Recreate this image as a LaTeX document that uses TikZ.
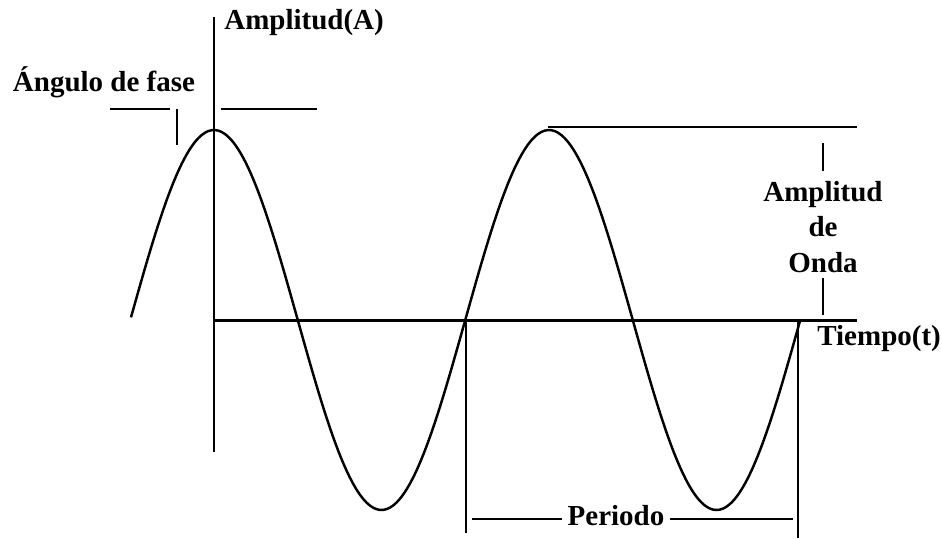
\documentclass[tikz,border=0pt]{standalone}
\usepackage{fontspec}
\setmainfont{Liberation Serif}
\usetikzlibrary{positioning}

\begin{document}
\begin{tikzpicture}[
      x=0.02cm, y=-0.02cm,
      axis/.style={line width=1.7pt},
      wave/.style={line width=1.4pt},
      guide/.style={line width=1.5pt},
      lbl/.style={font=\bfseries\fontsize{16.5}{19}\selectfont, inner sep=0pt}]

    % 1 unit = 1 px of the sketch, y grows downwards
    \def\per{335}       % period
    \def\amp{190}       % amplitude
    \def\xo{214}        % peak on the vertical axis
    \def\yo{320}        % time axis

    \useasboundingbox (0,0) rectangle (942,538);

    % Axes
    \coordinate (ytop) at (\xo,17);
    \coordinate (ybot) at (\xo,452);
    \coordinate (O) at (\xo,\yo);
    \coordinate (xend) at (857,\yo);
    \draw[axis] (ytop) -- (ybot);
    \draw[axis] (O) -- (xend);
    \node[lbl, anchor=west] (ampA) at (224,23) {Amplitud(A)};
    \node[lbl, anchor=west] (tiempo) at (817,339) {Tiempo(t)};

    % Wave
    \draw[wave] plot[domain=131:800, samples=200, smooth]
        (\x, {\yo-\amp*cos((\x-\xo)/\per*360)});

    % Phase angle
    \node[lbl] (fase) at (104,82) {Ángulo de fase};
    \coordinate (fl1) at (110,109);
    \coordinate (fl2) at (170,109);
    \coordinate (fr1) at (221,109);
    \coordinate (fr2) at (317,109);
    \coordinate (ft1) at (177,109);
    \coordinate (ft2) at (177,145);
    \draw[guide] (fl1) -- (fl2);
    \draw[guide] (fr1) -- (fr2);
    \draw[guide] (ft1) -- (ft2);

    % Wave amplitude
    \coordinate (pk) at (548,127);
    \coordinate (pkend) at (857,127);
    \draw[guide] (pk) -- (pkend);
    \node[lbl, align=center] (ampO) at (823,227) {Amplitud\\[1pt]de\\[1pt]Onda};
    \coordinate (at1) at (823,143);
    \coordinate (at2) at (823,171);
    \coordinate (ab1) at (823,278);
    \coordinate (ab2) at (823,315);
    \draw[guide] (at1) -- (at2);
    \draw[guide] (ab1) -- (ab2);

    % Period
    \coordinate (pl1) at (466,321);
    \coordinate (pl2) at (466,533);
    \coordinate (pr1) at (798,321);
    \coordinate (pr2) at (798,538);
    \coordinate (pdl) at (472,519);
    \coordinate (pdr) at (793,519);
    \draw[guide] (pl1) -- (pl2);
    \draw[guide] (pr1) -- (pr2);
    \node[lbl] (periodo) at (616,516) {Periodo};
    \draw[guide] (pdl) -- ([xshift=-3pt]periodo.west |- pdl);
    \draw[guide] ([xshift=3pt]periodo.east |- pdr) -- (pdr);

\end{tikzpicture}
\end{document}
